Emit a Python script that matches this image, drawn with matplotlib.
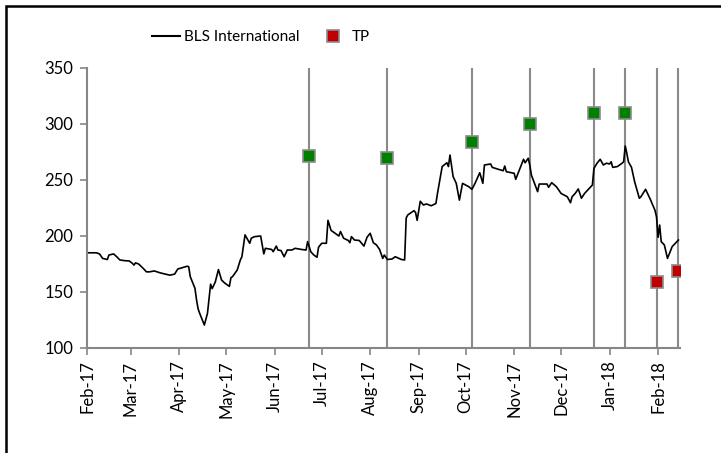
import numpy as np
import pandas as pd
import matplotlib
matplotlib.use("Agg")
import matplotlib.pyplot as plt
import matplotlib.dates as mdates
from matplotlib.patches import Rectangle
from matplotlib.lines import Line2D

plt.rcParams['font.family'] = ['Lato', 'DejaVu Sans']

# BLS International Kurs
price_dates = [
    "2017-02-01", "2017-02-07", "2017-02-09", "2017-02-11", "2017-02-14", "2017-02-15",
    "2017-02-18", "2017-02-20", "2017-02-22", "2017-02-25", "2017-02-28", "2017-03-02",
    "2017-03-03", "2017-03-04", "2017-03-06", "2017-03-09", "2017-03-11", "2017-03-13",
    "2017-03-16", "2017-03-20", "2017-03-23", "2017-03-26", "2017-03-29", "2017-03-31",
    "2017-04-03", "2017-04-06", "2017-04-07", "2017-04-08", "2017-04-11", "2017-04-12",
    "2017-04-13", "2017-04-14", "2017-04-17", "2017-04-19", "2017-04-21", "2017-04-22",
    "2017-04-24", "2017-04-26", "2017-04-28", "2017-04-30", "2017-05-03", "2017-05-04",
    "2017-05-05", "2017-05-08", "2017-05-10", "2017-05-11", "2017-05-13", "2017-05-16",
    "2017-05-17", "2017-05-19", "2017-05-23", "2017-05-25", "2017-05-26", "2017-05-30",
    "2017-05-31", "2017-06-02", "2017-06-03", "2017-06-05", "2017-06-07", "2017-06-09",
    "2017-06-12", "2017-06-14", "2017-06-18", "2017-06-21", "2017-06-22", "2017-06-24",
    "2017-06-26", "2017-06-28", "2017-06-29", "2017-07-01", "2017-07-04", "2017-07-05",
    "2017-07-07", "2017-07-09", "2017-07-12", "2017-07-13", "2017-07-15", "2017-07-18",
    "2017-07-19", "2017-07-20", "2017-07-22", "2017-07-25", "2017-07-28", "2017-07-30",
    "2017-08-01", "2017-08-03", "2017-08-05", "2017-08-07", "2017-08-09", "2017-08-10",
    "2017-08-12", "2017-08-15", "2017-08-17", "2017-08-21", "2017-08-23", "2017-08-24",
    "2017-08-25", "2017-08-29", "2017-08-30", "2017-08-31", "2017-09-02", "2017-09-04",
    "2017-09-06", "2017-09-09", "2017-09-12", "2017-09-13", "2017-09-16", "2017-09-19",
    "2017-09-20", "2017-09-21", "2017-09-23", "2017-09-25", "2017-09-27", "2017-09-29",
    "2017-10-03", "2017-10-05", "2017-10-07", "2017-10-10", "2017-10-12", "2017-10-13",
    "2017-10-17", "2017-10-18", "2017-10-22", "2017-10-25", "2017-10-26", "2017-10-27",
    "2017-11-01", "2017-11-02", "2017-11-07", "2017-11-08", "2017-11-10", "2017-11-11",
    "2017-11-12", "2017-11-14", "2017-11-16", "2017-11-17", "2017-11-22", "2017-11-23",
    "2017-11-25", "2017-11-28", "2017-12-01", "2017-12-05", "2017-12-07", "2017-12-08",
    "2017-12-10", "2017-12-12", "2017-12-14", "2017-12-16", "2017-12-21", "2017-12-22",
    "2017-12-24", "2017-12-26", "2017-12-28", "2017-12-30", "2018-01-01", "2018-01-02",
    "2018-01-03", "2018-01-06", "2018-01-09", "2018-01-10", "2018-01-11", "2018-01-12",
    "2018-01-13", "2018-01-15", "2018-01-17", "2018-01-20", "2018-01-21", "2018-01-24",
    "2018-01-27", "2018-01-30", "2018-01-31", "2018-02-01", "2018-02-02", "2018-02-03",
    "2018-02-05", "2018-02-07", "2018-02-10", "2018-02-12", "2018-02-14",
]
price_values = [
    185, 185, 184, 180, 179, 183,
    184, 181.5, 178.6, 178, 177.7, 175.6,
    174, 176, 175, 171, 168, 168,
    168.8, 167, 166, 165, 166, 170.5,
    171.7, 173, 172.6, 163.7, 153.3, 143,
    135, 131, 120.5, 131, 157, 153,
    159, 170, 160.7, 158, 155, 162.8,
    163.7, 169.6, 178.6, 181.5, 201, 193.5,
    198, 199.4, 200, 184, 189, 188,
    186, 191, 187.5, 187, 181.5, 187.5,
    187.5, 189, 188, 187.5, 195, 186,
    183, 181, 190, 193.5, 193.5, 214,
    205, 203, 200, 204, 198, 196,
    194, 199.4, 196.4, 196, 191, 199,
    202.4, 194, 192, 188, 180, 183,
    179, 179.5, 181.5, 179, 178.6, 216,
    218.8, 222.6, 221, 214, 231, 227.7,
    228.6, 227, 229, 238, 262, 265.4,
    262, 272.3, 253, 247, 232, 247,
    244, 241.7, 247, 256.5, 247, 263.4,
    264.3, 261.3, 259.5, 258.3, 262.5, 257.4,
    256, 250.6, 268.5, 265.4, 269.4, 263.4,
    254.5, 247, 239.6, 246.4, 246.4, 243.5,
    247.6, 244, 238, 235, 229.7, 235,
    238, 242, 233.7, 238, 245.5, 260.4,
    265, 268.5, 263.4, 265, 264.3, 266.3,
    261.3, 262, 265, 266.3, 280.4, 274,
    266.3, 261.3, 248.5, 233.7, 235, 241.7,
    232.8, 223, 217, 198.8, 209.8, 195,
    192, 180, 190.5, 193.5, 196.4,
]

# Wendepunkte (TP)
tp_dates = ["2017-06-23", "2017-08-12", "2017-10-05", "2017-11-11",
            "2017-12-22", "2018-01-11", "2018-01-31", "2018-02-14"]
tp_values = [271, 270, 284, 300, 310, 310, 159, 169]
tp_colors = ["#008000", "#008000", "#008000", "#008000",
             "#008000", "#008000", "#C00000", "#C00000"]

x_start = pd.Timestamp("2017-02-01")
x_end = pd.Timestamp("2018-02-15")

dates = pd.to_datetime(price_dates)
tps = pd.to_datetime(tp_dates)

fig = plt.figure(figsize=(7.21, 4.53), dpi=100)
ax = fig.add_axes([87 / 721, 1 - 348 / 453, (680 - 87) / 721, (348 - 68) / 453])

gray = "#868686"
ax.vlines(tps, 100, 350, color="#8a8a8a", linewidth=1.5, zorder=1)
ax.plot(dates, price_values, color="black", linewidth=1.2, zorder=2)
for d, v, c in zip(tps, tp_values, tp_colors):
    ax.plot([d], [v], marker="s", linestyle="none", markersize=9,
            markerfacecolor=c, markeredgecolor="#8c8c8c", markeredgewidth=1.2, zorder=3)

ax.set_xlim(x_start, x_end)
ax.set_ylim(100, 350)
ax.set_yticks(np.arange(100, 351, 50))
ax.xaxis.set_major_locator(mdates.MonthLocator())
ax.xaxis.set_major_formatter(mdates.DateFormatter("%b-%y"))
for lbl in ax.get_xticklabels():
    lbl.set_rotation(90)
    lbl.set_ha("center")

for side in ["top", "right"]:
    ax.spines[side].set_visible(False)
for side in ["left", "bottom"]:
    ax.spines[side].set_color(gray)
    ax.spines[side].set_linewidth(1.5)
ax.tick_params(axis="both", direction="out", length=5, width=1.2, color=gray,
               labelsize=12, labelcolor="black")
ax.tick_params(axis="y", pad=5)
ax.tick_params(axis="x", pad=4)

handles = [
    Line2D([0], [0], color="black", linewidth=1.5),
    Line2D([0], [0], marker="s", linestyle="none", markersize=8,
           markerfacecolor="#C00000", markeredgecolor="#8c8c8c", markeredgewidth=1.2),
]
fig.legend(handles, ["BLS International", "TP"], loc="center",
           bbox_to_anchor=(261 / 721, 1 - 37 / 453), ncol=2, frameon=False,
           fontsize=11, handlelength=1.8, handletextpad=0.3, columnspacing=1.3)

# Rahmen um das Diagramm (rechts/unten abgeschnitten)
fig.patches.append(Rectangle((6 / 721, -0.1), 1.2, 1.1 - 6 / 453, transform=fig.transFigure,
                             fill=False, edgecolor="black", linewidth=1.8))

fig.savefig("out.png", dpi=100)
